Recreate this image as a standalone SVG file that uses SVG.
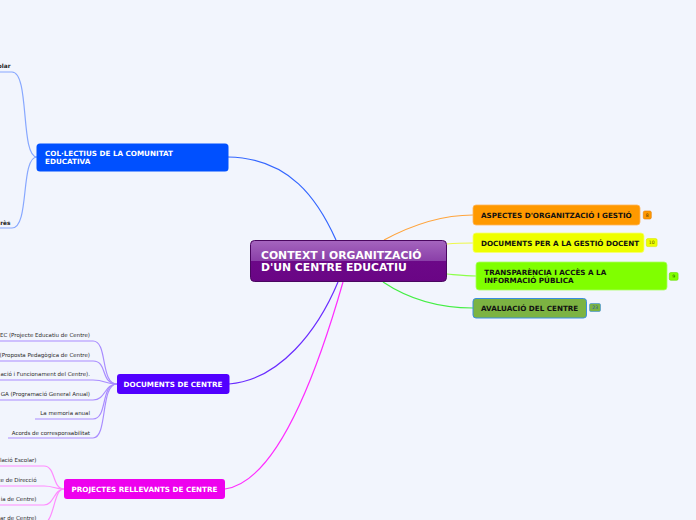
<svg xmlns="http://www.w3.org/2000/svg" width="696" height="520" viewBox="0 0 696 520">
<defs>
<linearGradient id="gc" x1="0" y1="0" x2="0" y2="1">
<stop offset="0" stop-color="#a565bf"/>
<stop offset="0.5" stop-color="#8a3fa8"/>
<stop offset="0.5" stop-color="#6c0888"/>
<stop offset="1" stop-color="#6a0585"/>
</linearGradient>
</defs>
<style>
.t{font-family:"DejaVu Sans",Verdana,sans-serif;font-weight:bold}
.w{fill:#ffffff}
.k{fill:#111111}
.leaf{font-family:"DejaVu Sans",Verdana,sans-serif;font-size:5.5px;fill:#2a2a2a;text-anchor:end}
.leafb{font-family:"DejaVu Sans",Verdana,sans-serif;font-size:5.8px;font-weight:bold;fill:#222222}
.c{fill:none;stroke-width:1.2}
.badge{font-family:"DejaVu Sans",Verdana,sans-serif;font-size:4.6px;text-anchor:middle}
</style>
<rect width="696" height="520" fill="#f2f5fd"/>
<g id="connectors">
<path class="c" stroke="#3466ff" d="M228,157 C290,158 318,200 336,240"/>
<path class="c" stroke="#6a2cff" d="M229,384 C280,380 318,330 338,282"/>
<path class="c" stroke="#ff2cff" d="M225,489 C275,482 315,380 343,282"/>
<path class="c" stroke="#ffa43c" d="M384,240 C410,226 440,215 473,215"/>
<path class="c" stroke="#eef84a" d="M447,244 C458,243 465,243 473,243"/>
<path class="c" stroke="#8cff4a" d="M447,274 C458,275 466,276 476,276"/>
<path class="c" stroke="#44ee44" d="M383,282 C410,300 440,308 473,308"/>
<path class="c" stroke="#88a8ff" d="M0,72 H12 C30,72 20,157 37,157"/>
<path class="c" stroke="#88a8ff" d="M0,228 H12 C30,228 20,157 37,157"/>
<path class="c" stroke="#a98cff" d="M0,341 H93 C108,341 100,384 117,384"/>
<path class="c" stroke="#a98cff" d="M0,361 H93 C108,361 100,384 117,384"/>
<path class="c" stroke="#a98cff" d="M0,380 H93 C106,380 104,384 117,384"/>
<path class="c" stroke="#a98cff" d="M0,400 H93 C106,400 104,384 117,384"/>
<path class="c" stroke="#a98cff" d="M35,419 H93 C108,419 100,384 117,384"/>
<path class="c" stroke="#a98cff" d="M8,438 H93 C108,438 100,384 117,384"/>
<path class="c" stroke="#ff8cff" d="M0,466 H44 C56,466 52,489 64,489"/>
<path class="c" stroke="#ff8cff" d="M0,486 H44 C54,486 54,489 64,489"/>
<path class="c" stroke="#ff8cff" d="M0,505 H44 C54,505 54,489 64,489"/>
<path class="c" stroke="#ff8cff" d="M0,525 H40 C56,525 52,489 64,489"/>
</g>
<g id="central">
<rect x="250.5" y="240.5" width="196" height="41" rx="4" fill="url(#gc)" stroke="#4a0660"/>
<text class="t w" font-size="10.8" x="261" y="259">CONTEXT I ORGANITZACIÓ</text>
<text class="t w" font-size="10.8" x="261" y="271.2">D'UN CENTRE EDUCATIU</text>
</g>
<g id="aspectes">
<rect x="473" y="205" width="167" height="20" rx="3" fill="#ff9900" stroke="#ffb55a" stroke-width="0.8"/>
<text class="t k" font-size="7.2" x="481" y="218.3">ASPECTES D'ORGANITZACIÓ I GESTIÓ</text>
<rect x="643.3" y="211" width="8" height="8" rx="1.5" fill="#ff9900" stroke="#e07a00" stroke-width="0.6"/>
<text class="badge" x="647.3" y="216.7" fill="#553300">8</text>
</g>
<g id="documents-gestio">
<rect x="473" y="233" width="171" height="19.5" rx="3" fill="#eeff00" stroke="#f6ff70" stroke-width="0.8"/>
<text class="t k" font-size="7.2" x="481" y="246">DOCUMENTS PER A LA GESTIÓ DOCENT</text>
<rect x="646.3" y="238.6" width="10.8" height="8" rx="1.5" fill="#eeff00" stroke="#d6e400" stroke-width="0.6"/>
<text class="badge" x="651.7" y="244.3" fill="#555500">10</text>
</g>
<g id="transparencia">
<rect x="476" y="262" width="191" height="28" rx="3" fill="#80ff00" stroke="#a8ff60" stroke-width="0.8"/>
<text class="t k" font-size="7.2" x="484.3" y="275">TRANSPARÈNCIA I ACCÈS A LA</text>
<text class="t k" font-size="7.2" x="484.3" y="283.4">INFORMACIÓ PÚBLICA</text>
<rect x="669.3" y="272.5" width="8.8" height="7.8" rx="1.5" fill="#80ff00" stroke="#66dd00" stroke-width="0.6"/>
<text class="badge" x="673.7" y="278.1" fill="#225500">9</text>
</g>
<g id="avaluacio">
<rect x="473" y="298.5" width="113.5" height="19.5" rx="3" fill="#7cb342" stroke="#3a8de0" stroke-width="1"/>
<text class="t k" font-size="7.2" x="481" y="310.7">AVALUACIÓ DEL CENTRE</text>
<rect x="589.5" y="303.5" width="11" height="8" rx="1.5" fill="#7cb342" stroke="#3a8de0" stroke-width="0.6"/>
<text class="badge" x="595" y="309.2" fill="#2255aa">23</text>
</g>
<g id="collectius">
<rect x="36.5" y="143.5" width="192" height="28" rx="3.5" fill="#0050ff"/>
<text class="t w" font-size="7.2" x="45" y="156">COL·LECTIUS DE LA COMUNITAT</text>
<text class="t w" font-size="7.2" x="45" y="164">EDUCATIVA</text>
</g>
<g id="collectius-leaves">
<text class="leafb" x="10.5" y="67.5" text-anchor="end">olar</text>
<text class="leafb" x="10.5" y="225" text-anchor="end">rès</text>
</g>
<g id="documents-centre">
<rect x="117" y="374" width="112.5" height="20" rx="3" fill="#5200ff"/>
<text class="t w" font-size="7.2" x="173" y="387" text-anchor="middle">DOCUMENTS DE CENTRE</text>
</g>
<g id="documents-leaves">
<text class="leaf" x="90" y="337">EC (Projecte Educatiu de Centre)</text>
<text class="leaf" x="90" y="357">(Proposta Pedagògica de Centre)</text>
<text class="leaf" x="90" y="376">ació i Funcionament del Centre).</text>
<text class="leaf" x="90" y="396">GA (Programació General Anual)</text>
<text class="leaf" x="90" y="415">La memoria anual</text>
<text class="leaf" x="90" y="435">Acords de corresponsabilitat</text>
</g>
<g id="projectes">
<rect x="64" y="479" width="161" height="20" rx="3" fill="#ee00ee"/>
<text class="t w" font-size="7.2" x="144.5" y="491.8" text-anchor="middle">PROJECTES RELLEVANTS DE CENTRE</text>
</g>
<g id="projectes-leaves">
<text class="leaf" x="36.5" y="462">lació Escolar)</text>
<text class="leaf" x="36.5" y="481.5">ce de Direcció</text>
<text class="leaf" x="36.5" y="500.5">ia de Centre)</text>
<text class="leaf" x="36.5" y="520">ar de Centre)</text>
</g>
</svg>
